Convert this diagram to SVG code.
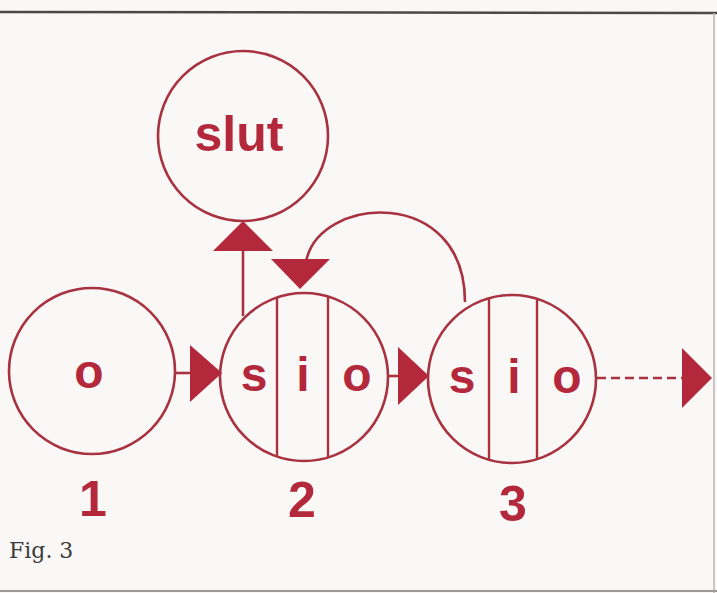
<svg xmlns="http://www.w3.org/2000/svg" width="717" height="593" viewBox="0 0 717 593">
<style>
.ring{fill:none;stroke:#a8323f;stroke-width:2.6}
.div{stroke:#a8323f;stroke-width:2.4}
.ln{fill:none;stroke:#a8323f;stroke-width:2.6}
.head{fill:#b3293b}
.lbl{font-family:"Liberation Sans",Arial,sans-serif;font-weight:bold;fill:#b3293b;text-anchor:middle}
.cap{font-family:"DejaVu Serif","Liberation Serif",serif;fill:#3c3c3c;font-size:22px}
</style>
<rect x="0" y="0" width="717" height="593" fill="#f9f8f7"/>
<line x1="0" y1="12" x2="717" y2="13" stroke="#4a4a4a" stroke-width="2.5"/>
<line x1="714" y1="13" x2="714" y2="593" stroke="#b8b8b8" stroke-width="1.5"/>
<line x1="0" y1="591" x2="717" y2="591" stroke="#9a9a9a" stroke-width="2"/>

<g id="connectors">
  <line class="ln" x1="175" y1="373" x2="192" y2="373"/>
  <polygon class="head" points="190,345 222,373 190,402"/>
  <line class="ln" x1="388" y1="376" x2="400" y2="376"/>
  <polygon class="head" points="398,347 429,376 398,405"/>
  <line class="ln" x1="597" y1="378" x2="682" y2="378" stroke-width="3" stroke-dasharray="9,5"/>
  <polygon class="head" points="682,348 712,378 682,408"/>
  <line class="ln" x1="243" y1="316" x2="243" y2="250"/>
  <polygon class="head" points="213,251 243,221 273,251"/>
  <path class="ln" d="M 306 262 C 318 195, 465 185, 465 302"/>
  <polygon class="head" points="271,259 330,259 300,289"/>
</g>

<g id="node-slut">
  <circle class="ring" cx="243" cy="136" r="85"/>
  <text class="lbl" x="239" y="151" font-size="50">slut</text>
</g>

<g id="node-1">
  <circle class="ring" cx="92" cy="371" r="83"/>
  <text class="lbl" x="89" y="388" font-size="48">o</text>
  <text class="lbl" x="93" y="516" font-size="50">1</text>
</g>

<g id="node-2">
  <circle class="ring" cx="304" cy="377" r="84"/>
  <line class="div" x1="277" y1="297" x2="277" y2="457"/>
  <line class="div" x1="328" y1="297" x2="328" y2="457"/>
  <text class="lbl" x="254" y="391" font-size="48">s</text>
  <text class="lbl" x="303" y="391" font-size="48">i</text>
  <text class="lbl" x="357" y="391" font-size="48">o</text>
  <text class="lbl" x="302" y="517" font-size="50">2</text>
</g>

<g id="node-3">
  <circle class="ring" cx="512" cy="379" r="84"/>
  <line class="div" x1="489" y1="299" x2="489" y2="460"/>
  <line class="div" x1="537" y1="298" x2="537" y2="460"/>
  <text class="lbl" x="462" y="393" font-size="48">s</text>
  <text class="lbl" x="514" y="393" font-size="48">i</text>
  <text class="lbl" x="567" y="393" font-size="48">o</text>
  <text class="lbl" x="513" y="521" font-size="50">3</text>
</g>

<text class="cap" x="9" y="558">Fig. 3</text>
</svg>
